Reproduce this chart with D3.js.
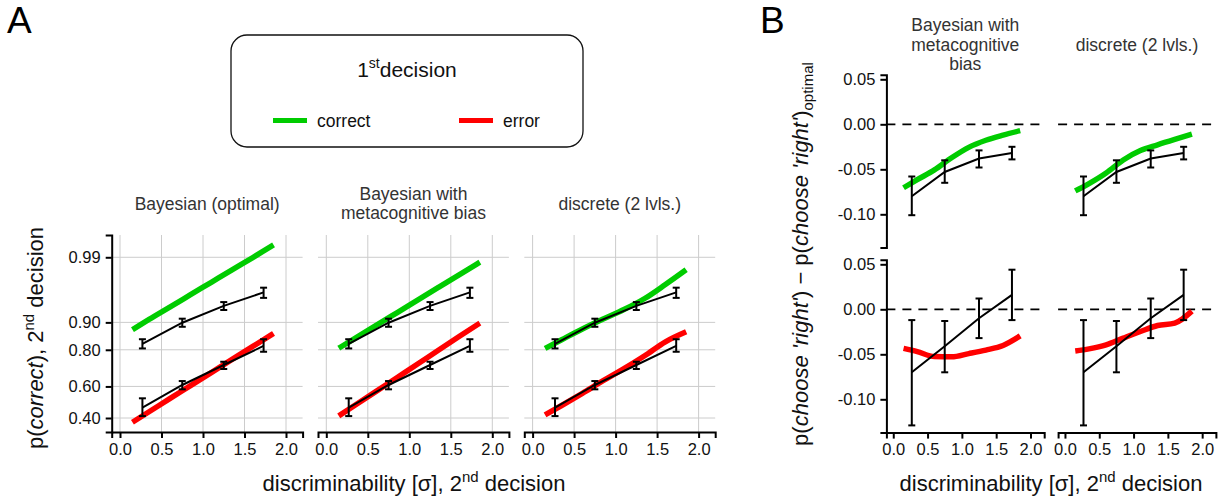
<!DOCTYPE html>
<head>
  <meta charset="utf-8">
  <title>Confidence model comparison</title>
  <style>
    body { margin: 0; background: #fff; }
    * { font-family: "Liberation Sans", Arial, sans-serif; }
    .grid { stroke: #cccccc; stroke-width: 1; }
    .model { fill: none; stroke-width: 5.5; stroke-linecap: butt; }
    .data { fill: none; stroke: #000; stroke-width: 2; }
    .bar { stroke: #000; stroke-width: 2; }
    .axis path, .axis line { stroke: #000; stroke-width: 2; }
    .axis text { font-size: 16.5px; fill: #111; font-family: "Liberation Sans", Arial, sans-serif; }
    .title { font-size: 17.5px; fill: #333; text-anchor: middle; }
    .label { font-size: 22px; fill: #111; }
  </style>
</head>

<body>
  <div id="chart"></div>

  <script src="https://cdnjs.cloudflare.com/ajax/libs/d3/7.8.5/d3.min.js"></script>

  <script>
    // model curves share one x grid (discriminability, 2nd decision)
    const modelX = [0.15, 0.35, 0.6, 0.85, 1.1, 1.35, 1.6, 1.85];

    // panel A: p(correct) of 2nd decision, by 1st decision outcome
    const optimalCorrect = [0.878, 0.908, 0.9365, 0.9578, 0.9729, 0.9832, 0.9899, 0.9942];
    const optimalError = [0.374, 0.439, 0.523, 0.605, 0.683, 0.754, 0.815, 0.865];
    const biasCorrect = [0.807, 0.8485, 0.891, 0.9244, 0.9494, 0.9673, 0.9796, 0.9877];
    const biasError = [0.413, 0.482, 0.569, 0.653, 0.730, 0.798, 0.854, 0.898];
    const discreteCorrect = [0.806, 0.842, 0.880, 0.909, 0.9315, 0.952, 0.9706, 0.9833];
    const discreteError = [0.419, 0.479, 0.557, 0.635, 0.705, 0.772, 0.834, 0.871];

    const dataX = [0.27, 0.75, 1.25, 1.73];
    const dataCorrect = [0.825, 0.899, 0.939, 0.961];
    const dataCorrectLo = [0.806, 0.887, 0.9306, 0.953];
    const dataCorrectHi = [0.844, 0.910, 0.946, 0.967];
    const dataError = [0.465, 0.609, 0.725, 0.817];
    const dataErrorLo = [0.412, 0.582, 0.703, 0.791];
    const dataErrorHi = [0.525, 0.633, 0.742, 0.844];

    // panel B: p(choose 'right') minus the optimal model
    const biasDiffCorrect = [-0.0705, -0.0615, -0.0507, -0.0372, -0.0256, -0.0177, -0.0120, -0.0071];
    const biasDiffError = [-0.0434, -0.047, -0.0525, -0.0527, -0.0492, -0.0453, -0.0402, -0.0296];
    const discreteDiffCorrect = [-0.074, -0.0658, -0.054, -0.0396, -0.0292, -0.0228, -0.0168, -0.011];
    const discreteDiffError = [-0.0463, -0.0440, -0.0395, -0.032, -0.0247, -0.018, -0.0153, -0.002];

    const dataDiffCorrect = [-0.080, -0.053, -0.038, -0.032];
    const dataDiffCorrectLo = [-0.101, -0.065, -0.048, -0.039];
    const dataDiffCorrectHi = [-0.058, -0.040, -0.029, -0.025];
    const dataDiffError = [-0.070, -0.041, -0.010, 0.016];
    const dataDiffErrorLo = [-0.129, -0.070, -0.032, -0.012];
    const dataDiffErrorHi = [-0.012, -0.013, 0.012, 0.044];

    const xTicks = [0, 0.5, 1, 1.5, 2];
    const yTicksA = [0.99, 0.90, 0.80, 0.60, 0.40];
    const yTicksB = [0.05, 0, -0.05, -0.10];
    const titlesA = [["Bayesian (optimal)"], ["Bayesian with", "metacognitive bias"], ["discrete (2 lvls.)"]];
    const titlesB = [["Bayesian with", "metacognitive", "bias"], ["discrete (2 lvls.)"]];

    const green = '#00cc00', red = '#ff0000';

    // inverse normal cdf (Acklam), for the probit-scaled y axis of panel A
    function probit(p) {
      const a = [-3.969683028665376e+01, 2.209460984245205e+02, -2.759285104469687e+02, 1.383577518672690e+02, -3.066479806614716e+01, 2.506628277459239e+00];
      const b = [-5.447609879822406e+01, 1.615858368580409e+02, -1.556989798598866e+02, 6.680131188771972e+01, -1.328068155288572e+01];
      const c = [-7.784894002430293e-03, -3.223964580411365e-01, -2.400758277161838e+00, -2.549732539343734e+00, 4.374664141464968e+00, 2.938163982698783e+00];
      const d = [7.784695709041462e-03, 3.224671290700398e-01, 2.445134137142996e+00, 3.754408661907416e+00];
      const pl = 0.02425;
      let q, r;
      if (p < pl) {
        q = Math.sqrt(-2 * Math.log(p));
        return (((((c[0] * q + c[1]) * q + c[2]) * q + c[3]) * q + c[4]) * q + c[5]) / ((((d[0] * q + d[1]) * q + d[2]) * q + d[3]) * q + 1);
      }
      if (p > 1 - pl) {
        q = Math.sqrt(-2 * Math.log(1 - p));
        return -(((((c[0] * q + c[1]) * q + c[2]) * q + c[3]) * q + c[4]) * q + c[5]) / ((((d[0] * q + d[1]) * q + d[2]) * q + d[3]) * q + 1);
      }
      q = p - 0.5; r = q * q;
      return (((((a[0] * r + a[1]) * r + a[2]) * r + a[3]) * r + a[4]) * r + a[5]) * q / (((((b[0] * r + b[1]) * r + b[2]) * r + b[3]) * r + b[4]) * r + 1);
    }

    const svg = d3.select('#chart').append('svg')
      .attr('width', 1225)
      .attr('height', 500);

    function styleAxis(g) {
      g.attr('class', 'axis').attr('font-size', null).attr('font-family', null);
    }

    function drawData(g, x, y, mean, lo, hi) {
      g.append('path')
        .datum(dataX.map((d, i) => [d, mean[i]]))
        .attr('class', 'data')
        .attr('d', d3.line().x(d => x(d[0])).y(d => y(d[1])));
      dataX.forEach((d, i) => {
        const cx = x(d);
        g.append('line').attr('class', 'bar')
          .attr('x1', cx).attr('x2', cx).attr('y1', y(lo[i])).attr('y2', y(hi[i]));
        [lo[i], hi[i]].forEach(v => {
          g.append('line').attr('class', 'bar')
            .attr('x1', cx - 3.5).attr('x2', cx + 3.5).attr('y1', y(v)).attr('y2', y(v));
        });
      });
    }

    function drawModel(g, x, y, values, colour) {
      g.append('path')
        .datum(modelX.map((d, i) => [d, values[i]]))
        .attr('class', 'model')
        .attr('stroke', colour)
        .attr('d', d3.line().x(d => x(d[0])).y(d => y(d[1])).curve(d3.curveMonotoneX));
    }

    function drawTitle(lines, cx, baselines) {
      lines.forEach((t, i) => {
        svg.append('text').attr('class', 'title')
          .attr('x', cx).attr('y', baselines[i]).text(t);
      });
    }

    // ---------- panel A ----------
    const aLeft = [111.7, 318, 524.3];
    const aTop = 235, aBottom = 432;
    const modelsA = [[optimalCorrect, optimalError], [biasCorrect, biasError], [discreteCorrect, discreteError]];

    aLeft.forEach((left, i) => {
      const x = d3.scaleLinear().domain([-0.1, 2.2]).range([left, left + 190.9]);
      const yl = d3.scaleLinear().domain([-0.478, 2.684]).range([aBottom, aTop]);
      const y = p => yl(probit(p));
      const g = svg.append('g');

      g.selectAll('.vgrid').data(xTicks).join('line')
        .attr('class', 'grid')
        .attr('x1', d => x(d)).attr('x2', d => x(d))
        .attr('y1', aTop).attr('y2', aBottom);
      g.selectAll('.hgrid').data(yTicksA).join('line')
        .attr('class', 'grid')
        .attr('x1', left).attr('x2', left + 190.9)
        .attr('y1', d => y(d)).attr('y2', d => y(d));

      drawModel(g, x, y, modelsA[i][0], green);
      drawModel(g, x, y, modelsA[i][1], red);
      drawData(g, x, y, dataCorrect, dataCorrectLo, dataCorrectHi);
      drawData(g, x, y, dataError, dataErrorLo, dataErrorHi);

      g.append('g')
        .attr('transform', `translate(0,${aBottom})`)
        .call(d3.axisBottom(x).tickValues(xTicks).tickFormat(d => d.toFixed(1)).tickSizeOuter(0).tickSize(6).tickPadding(5))
        .call(styleAxis);

      if (i === 0) {
        g.append('g')
          .attr('transform', `translate(${left},0)`)
          .call(d3.axisLeft(yl).tickValues(yTicksA.map(probit)).tickFormat((d, k) => yTicksA[k].toFixed(2)).tickSizeOuter(0).tickSize(6).tickPadding(5))
          .call(styleAxis);
      }

      const cx = left + 190.9 / 2;
      if (titlesA[i].length === 1) drawTitle(titlesA[i], cx, [210]);
      else drawTitle(titlesA[i], cx, [200, 218.5]);
    });

    // ---------- panel B ----------
    const bLeft = [886.4, 1058.1];
    const bRows = [[247.6, 74.8], [432.6, 259.8]];
    const modelsB = [[biasDiffCorrect, biasDiffError], [discreteDiffCorrect, discreteDiffError]];
    const dataB = [[dataDiffCorrect, dataDiffCorrectLo, dataDiffCorrectHi], [dataDiffError, dataDiffErrorLo, dataDiffErrorHi]];

    bLeft.forEach((left, c) => {
      const x = d3.scaleLinear().domain([-0.1, 2.2]).range([left, left + 157.8]);
      bRows.forEach((range, r) => {
        const y = d3.scaleLinear().domain([-0.137, 0.055]).range(range);
        const g = svg.append('g');

        g.append('line')
          .attr('x1', left).attr('x2', left + 157.8)
          .attr('y1', y(0)).attr('y2', y(0))
          .attr('stroke', '#000').attr('stroke-width', 1.8)
          .attr('stroke-dasharray', '9,7');

        drawModel(g, x, y, modelsB[c][r], r === 0 ? green : red);
        drawData(g, x, y, dataB[r][0], dataB[r][1], dataB[r][2]);

        if (c === 0) {
          g.append('g')
            .attr('transform', `translate(${left},0)`)
            .call(d3.axisLeft(y).tickValues(yTicksB).tickFormat(d => d.toFixed(2)).tickSizeOuter(0).tickSize(6).tickPadding(5))
            .call(styleAxis);
        }
        if (r === 1) {
          g.append('g')
            .attr('transform', `translate(0,${range[0]})`)
            .call(d3.axisBottom(x).tickValues(xTicks).tickFormat(d => d.toFixed(1)).tickSizeOuter(0).tickSize(6).tickPadding(5))
            .call(styleAxis);
        }
      });
      const cx = left + 157.8 / 2;
      if (titlesB[c].length === 1) drawTitle(titlesB[c], cx, [51]);
      else drawTitle(titlesB[c], cx, [31, 50.5, 70]);
    });

    // ---------- legend ----------
    svg.append('rect')
      .attr('x', 231).attr('y', 35).attr('width', 352).attr('height', 112)
      .attr('rx', 16).attr('fill', 'none').attr('stroke', '#111').attr('stroke-width', 1.3);
    const lt = svg.append('text').attr('x', 407).attr('y', 77)
      .attr('text-anchor', 'middle').attr('font-size', 21).attr('fill', '#111');
    lt.append('tspan').text('1');
    lt.append('tspan').attr('dy', -9).attr('font-size', 14).text('st');
    lt.append('tspan').attr('dy', 9).text('decision');

    [[273, 'correct', green], [459, 'error', red]].forEach(([lx, name, colour]) => {
      svg.append('line')
        .attr('x1', lx).attr('x2', lx + 34).attr('y1', 120.5).attr('y2', 120.5)
        .attr('stroke', colour).attr('stroke-width', 5);
      svg.append('text')
        .attr('x', lx + 44).attr('y', 127)
        .attr('font-size', 17.5).attr('fill', '#111')
        .text(name);
    });

    // ---------- axis labels ----------
    function xLabel(cx) {
      const t = svg.append('text').attr('class', 'label')
        .attr('x', cx).attr('y', 491).attr('text-anchor', 'middle');
      t.append('tspan').text('discriminability [');
      t.append('tspan').attr('font-family', '"Liberation Serif", "DejaVu Serif", serif').text('σ');
      t.append('tspan').text('], 2');
      t.append('tspan').attr('dy', -9).attr('font-size', 15).text('nd');
      t.append('tspan').attr('dy', 9).text(' decision');
    }
    xLabel(414);
    xLabel(1051);

    const ya = svg.append('text').attr('class', 'label')
      .attr('transform', 'translate(43,338) rotate(-90)')
      .attr('text-anchor', 'middle');
    ya.append('tspan').text('p(');
    ya.append('tspan').attr('font-style', 'italic').text('correct');
    ya.append('tspan').text('), 2');
    ya.append('tspan').attr('dy', -9).attr('font-size', 15).text('nd');
    ya.append('tspan').attr('dy', 9).text(' decision');

    const yb = svg.append('text').attr('class', 'label')
      .attr('transform', 'translate(808,254) rotate(-90)')
      .attr('text-anchor', 'middle');
    yb.append('tspan').text('p(');
    yb.append('tspan').attr('font-style', 'italic').text("choose 'right'");
    yb.append('tspan').text(') \u2212 p(');
    yb.append('tspan').attr('font-style', 'italic').text("choose 'right'");
    yb.append('tspan').text(')');
    yb.append('tspan').attr('dy', 5).attr('font-size', 15).text('optimal');

    // panel letters
    svg.append('text').attr('x', 7).attr('y', 33).attr('font-size', 37).attr('fill', '#000').text('A');
    svg.append('text').attr('x', 760).attr('y', 33).attr('font-size', 37).attr('fill', '#000').text('B');
  </script>
</body>

</html>
